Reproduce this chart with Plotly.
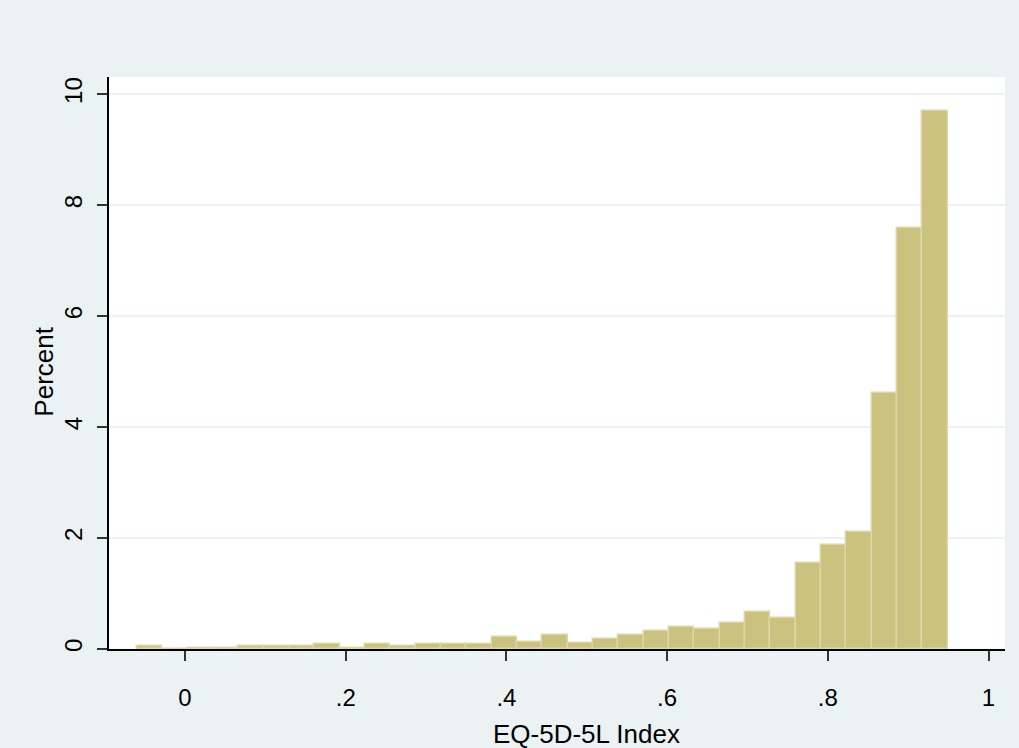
import plotly.graph_objects as go

# Histogram of EQ-5D-5L index (Stata-style), percent per bin
bin_start = -0.0597
bin_width = 0.03152
percent = [0.055, 0.0, 0.024, 0.02, 0.05, 0.05, 0.05, 0.085, 0.02, 0.09,
           0.055, 0.085, 0.085, 0.09, 0.22, 0.12, 0.247, 0.108, 0.187, 0.247,
           0.32, 0.39, 0.355, 0.476, 0.675, 0.56, 1.554, 1.867, 2.10, 4.61,
           7.58, 9.69]
x_tickvals = [0, 0.2, 0.4, 0.6, 0.8, 1.0]
x_ticktext = ["0", ".2", ".4", ".6", ".8", "1"]
y_tickvals = [0, 2, 4, 6, 8, 10]
y_ticktext = ["0", "2", "4", "6", "8", "10"]
x_title = "EQ-5D-5L Index"
y_title = "Percent"

centers = [bin_start + bin_width * (i + 0.5) for i in range(len(percent))]

BG = "#eaf2f3"
FONT = "Liberation Sans, Arial, sans-serif"

fig = go.Figure(go.Bar(
    x=centers, y=percent, width=[bin_width] * len(percent),
    marker=dict(color="#cac27e", line=dict(color="#dcd7a6", width=1.4)),
))

fig.update_layout(
    width=1019, height=748,
    paper_bgcolor=BG, plot_bgcolor="white",
    margin=dict(l=109, r=14, t=77, b=99),
    showlegend=False,
    font=dict(family=FONT, size=24, color="black"),
    bargap=0,
)
fig.update_xaxes(
    range=[-0.0946, 1.0205], tickvals=x_tickvals, ticktext=x_ticktext,
    showgrid=False, zeroline=False, showline=True, linecolor="black", linewidth=1.5,
    ticks="outside", ticklen=10, tickwidth=1.5, tickcolor="#333333",
    tickfont=dict(size=24), ticklabelstandoff=16, automargin=False,
)
fig.update_yaxes(
    range=[0, 10.31], tickvals=y_tickvals, ticktext=y_ticktext,
    showgrid=True, gridcolor=BG, gridwidth=1.5, zeroline=False,
    showline=True, linecolor="black", linewidth=1.5,
    ticks="outside", ticklen=10, tickwidth=1.5, tickcolor="#333333",
    tickangle=-90, tickfont=dict(size=24), ticklabelstandoff=6, automargin=False,
)
# Axis titles centred on the scale midpoints (as Stata does)
fig.add_annotation(text=x_title, xref="x", x=0.5, yref="paper", y=-0.1486,
                   xanchor="center", yanchor="middle", showarrow=False,
                   font=dict(size=26))
fig.add_annotation(text=y_title, xref="paper", x=-0.0725, yref="y", y=5,
                   xanchor="center", yanchor="middle", showarrow=False,
                   textangle=-90, font=dict(size=26))

fig.write_html("out.html", config={"displayModeBar": False},
               post_script="document.body.style.margin='0px';")
